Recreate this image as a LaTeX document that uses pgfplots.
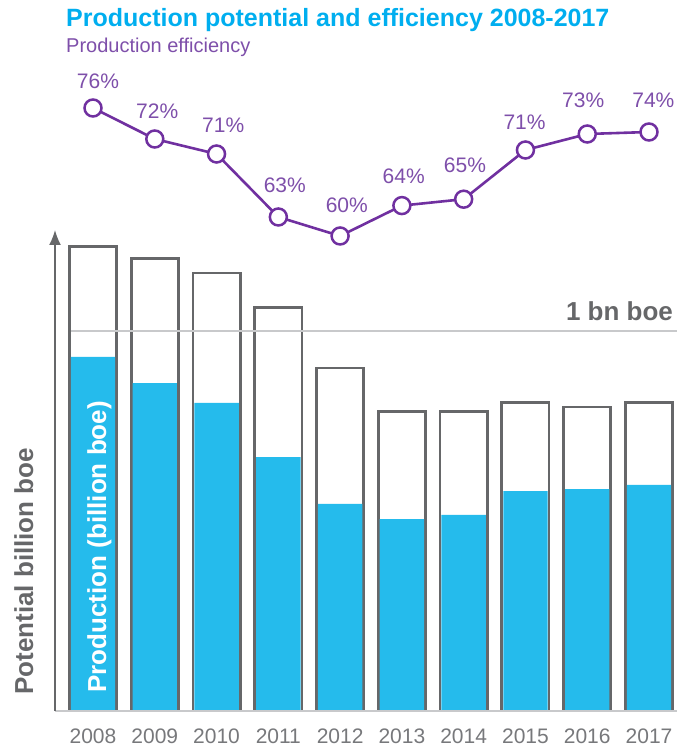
\documentclass[border=0pt]{standalone}
\usepackage{fontspec}
\setmainfont{Liberation Sans}
\usepackage{pgfplots}
\usepackage{pgfplotstable}
\pgfplotsset{compat=1.18}
\usetikzlibrary{arrows.meta}
\definecolor{barcyan}{HTML}{25BBEC}
\definecolor{titlecyan}{HTML}{00AEEF}
\definecolor{linepurple}{HTML}{7030A0}
\definecolor{textpurple}{HTML}{7E4FAA}
\definecolor{outlinegray}{HTML}{666769}
\definecolor{ticklabelgray}{HTML}{77787B}
\definecolor{refgray}{HTML}{C8C9CB}

\pgfplotstableread{
year potential production
2008 1.222 0.932
2009 1.192 0.863
2010 1.153 0.811
2011 1.063 0.668
2012 0.903 0.545
2013 0.789 0.505
2014 0.789 0.516
2015 0.813 0.579
2016 0.800 0.584
2017 0.813 0.595
}\bardata

\pgfplotstableread{
year eff
2008 76
2009 72.125
2010 70.25
2011 62.375
2012 60
2013 63.8
2014 64.6
2015 70.75
2016 72.75
2017 73.0
}\effdata

\pgfplotstableread{
x y lab
2008.081 78.375 76
2009.040 74.625 72
2010.108 72.875 71
2011.105 65.375 63
2012.108 62.875 60
2013.030 66.500 64
2014.020 67.875 65
2014.985 73.250 71
2015.935 76.000 73
2017.070 76.000 74
}\labdata

\begin{document}
\begin{tikzpicture}
\useasboundingbox (0,0) rectangle (677bp,746bp);

\node[anchor=base west, inner sep=0pt, text=titlecyan,
      font=\fontsize{25bp}{30bp}\selectfont\bfseries] at (66bp,719bp)
      {Production potential and efficiency 2008-2017};
\node[anchor=base west, inner sep=0pt, text=textpurple,
      font=\fontsize{20bp}{24bp}\selectfont] at (66bp,693bp)
      {Production efficiency};

\begin{axis}[
  at={(55bp,35bp)}, anchor=south west, scale only axis,
  width=622bp, height=481bp,
  xmin=2007.385, xmax=2017.453, ymin=0, ymax=1.266,
  axis x line=bottom, axis y line=left,
  x axis line style={draw=refgray, line width=2bp, -},
  y axis line style={draw=outlinegray, line width=1.6bp, -{Latex[length=15bp,width=12bp]}},
  ytick=\empty,
  xtick={2008,2009,2010,2011,2012,2013,2014,2015,2016,2017},
  xticklabels={2008,2009,2010,2011,2012,2013,2014,2015,2016,2017},
  major tick length=0pt,
  xticklabel style={anchor=base, yshift=-32bp, inner sep=0pt,
    font=\fontsize{21bp}{24bp}\selectfont, text=ticklabelgray},
  axis on top, clip=false,
]
\addplot[ybar, bar width=0.764, bar shift=0pt, fill=white, draw=outlinegray, line width=2.8bp]
  table[x=year, y=potential] {\bardata};
\addplot[ybar, bar width=0.719, bar shift=0pt, fill=barcyan, draw=none]
  table[x=year, y=production] {\bardata};
\addplot[refgray, line width=2bp, mark=none] coordinates {(2007.644,1) (2017.453,1)};
\node[anchor=base east, inner sep=0pt, text=outlinegray,
      font=\fontsize{26bp}{30bp}\selectfont\bfseries] at (axis cs:2017.39,1.029) {1 bn boe};
\end{axis}

\node[rotate=90, anchor=base west, inner sep=0pt, text=outlinegray,
      font=\fontsize{26bp}{30bp}\selectfont\bfseries] at (33bp,51bp) {Potential billion boe};
\node[rotate=90, anchor=base west, inner sep=0pt, text=white,
      font=\fontsize{26bp}{30bp}\selectfont\bfseries] at (106bp,53bp) {Production (billion boe)};

\begin{axis}[
  at={(55bp,30bp)}, anchor=south west, scale only axis,
  width=622bp, height=640bp,
  xmin=2007.385, xmax=2017.453, ymin=0, ymax=80,
  hide axis, clip=false,
]
\addplot[linepurple, line width=2.6bp, mark=*, mark size=8.5bp,
  mark options={fill=white, draw=linepurple, line width=2.5bp}]
  table[x=year, y=eff] {\effdata};
\addplot[draw=none, mark=none, point meta=explicit symbolic,
  nodes near coords={\pgfplotspointmeta\%},
  nodes near coords align={anchor=base},
  every node near coord/.append style={inner sep=0pt, text=textpurple,
    font=\fontsize{21bp}{25bp}\selectfont}]
  table[x=x, y=y, meta=lab] {\labdata};
\end{axis}
\end{tikzpicture}
\end{document}
